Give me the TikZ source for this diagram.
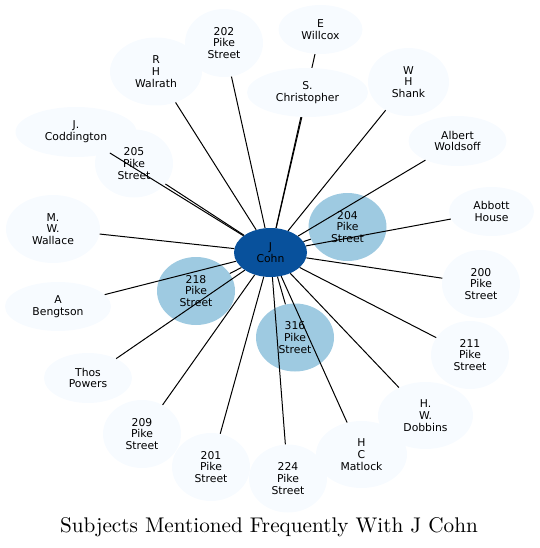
\documentclass[tikz,border=0pt]{standalone}
\usepackage{fontspec}
\newfontfamily\labelfont{DejaVu Sans}
\newfontfamily\titlefont{lmroman10-regular}[Extension=.otf]
\usetikzlibrary{shapes,backgrounds}
\definecolor{cohnblue}{RGB}{8,81,156}
\definecolor{midblue}{RGB}{158,202,225}
\definecolor{paleblue}{RGB}{247,251,255}
\tikzset{
  subj/.style={ellipse, fill=paleblue, inner sep=0pt, align=center,
    font=\labelfont\fontsize{10.8}{11.7}\selectfont},
  addr/.style={subj, minimum width=78pt, minimum height=68pt},
  link/.style={line width=1pt, black}
}

\begin{document}
\begin{tikzpicture}[x=1pt, y=-1pt]
  \useasboundingbox (0,0) rectangle (539,548);
  % outer subjects
  \node[addr] (pike202) at (224,43) {202\\Pike\\Street};
  \node[subj, minimum width=92pt, minimum height=68pt] (walrath) at (156,71.5) {R\\H\\Walrath};
  \node[subj, minimum width=84pt, minimum height=49pt] (willcox) at (320.5,29.5) {E\\Willcox};
  \node[subj, minimum width=121pt, minimum height=49pt] (christopher) at (307.5,92.5) {S.\\Christopher};
  \node[subj, minimum width=81pt, minimum height=68pt] (shank) at (408.5,82) {W\\H\\Shank};
  \node[subj, minimum width=98pt, minimum height=50pt] (woldsoff) at (457.5,141) {Albert\\Woldsoff};
  \node[subj, minimum width=121pt, minimum height=50pt] (coddington) at (76,132) {J.\\Coddington};
  \node[addr] (pike205) at (134,163.5) {205\\Pike\\Street};
  \node[subj, minimum width=85pt, minimum height=49pt] (abbott) at (491.5,211.5) {Abbott\\House};
  \node[addr, fill=midblue] (pike204) at (347.5,227) {204\\Pike\\Street};
  \node[subj, minimum width=94pt, minimum height=68pt] (wallace) at (53,229) {M.\\W.\\Wallace};
  \node[addr] (pike200) at (481,284) {200\\Pike\\Street};
  \node[addr, fill=midblue] (pike218) at (196,291) {218\\Pike\\Street};
  \node[subj, minimum width=106pt, minimum height=49pt] (bengtson) at (58,306.5) {A\\Bengtson};
  \node[addr, fill=midblue] (pike316) at (295,337.5) {316\\Pike\\Street};
  \node[addr] (pike211) at (470,355) {211\\Pike\\Street};
  \node[subj, minimum width=88pt, minimum height=50pt] (powers) at (88,378) {Thos\\Powers};
  \node[subj, minimum width=95pt, minimum height=67pt] (dobbins) at (425.5,415.5) {H.\\W.\\Dobbins};
  \node[addr] (pike209) at (142,434) {209\\Pike\\Street};
  \node[subj, minimum width=91pt, minimum height=67pt] (matlock) at (361.5,454.5) {H\\C\\Matlock};
  \node[addr] (pike201) at (211,467) {201\\Pike\\Street};
  \node[addr] (pike224) at (288,478.5) {224\\Pike\\Street};
  % centre
  \node[subj, fill=cohnblue, minimum width=73pt, minimum height=49pt] (cohn) at (270.5,252.5) {J\\Cohn};

  % links
  \begin{scope}[on background layer]
    \draw[link] (willcox) -- (cohn);
  \end{scope}
  \foreach \n in {pike202,walrath,christopher,shank,woldsoff,coddington,pike205,abbott,pike204,wallace,pike200,pike218,bengtson,pike316,pike211,powers,dobbins,pike209,matlock,pike201,pike224}
    \draw[link] (cohn) -- (\n);

  \node[font=\titlefont\fontsize{21.2}{25}\selectfont, anchor=base] (title) at (269,532) {Subjects Mentioned Frequently With J Cohn};
\end{tikzpicture}
\end{document}
